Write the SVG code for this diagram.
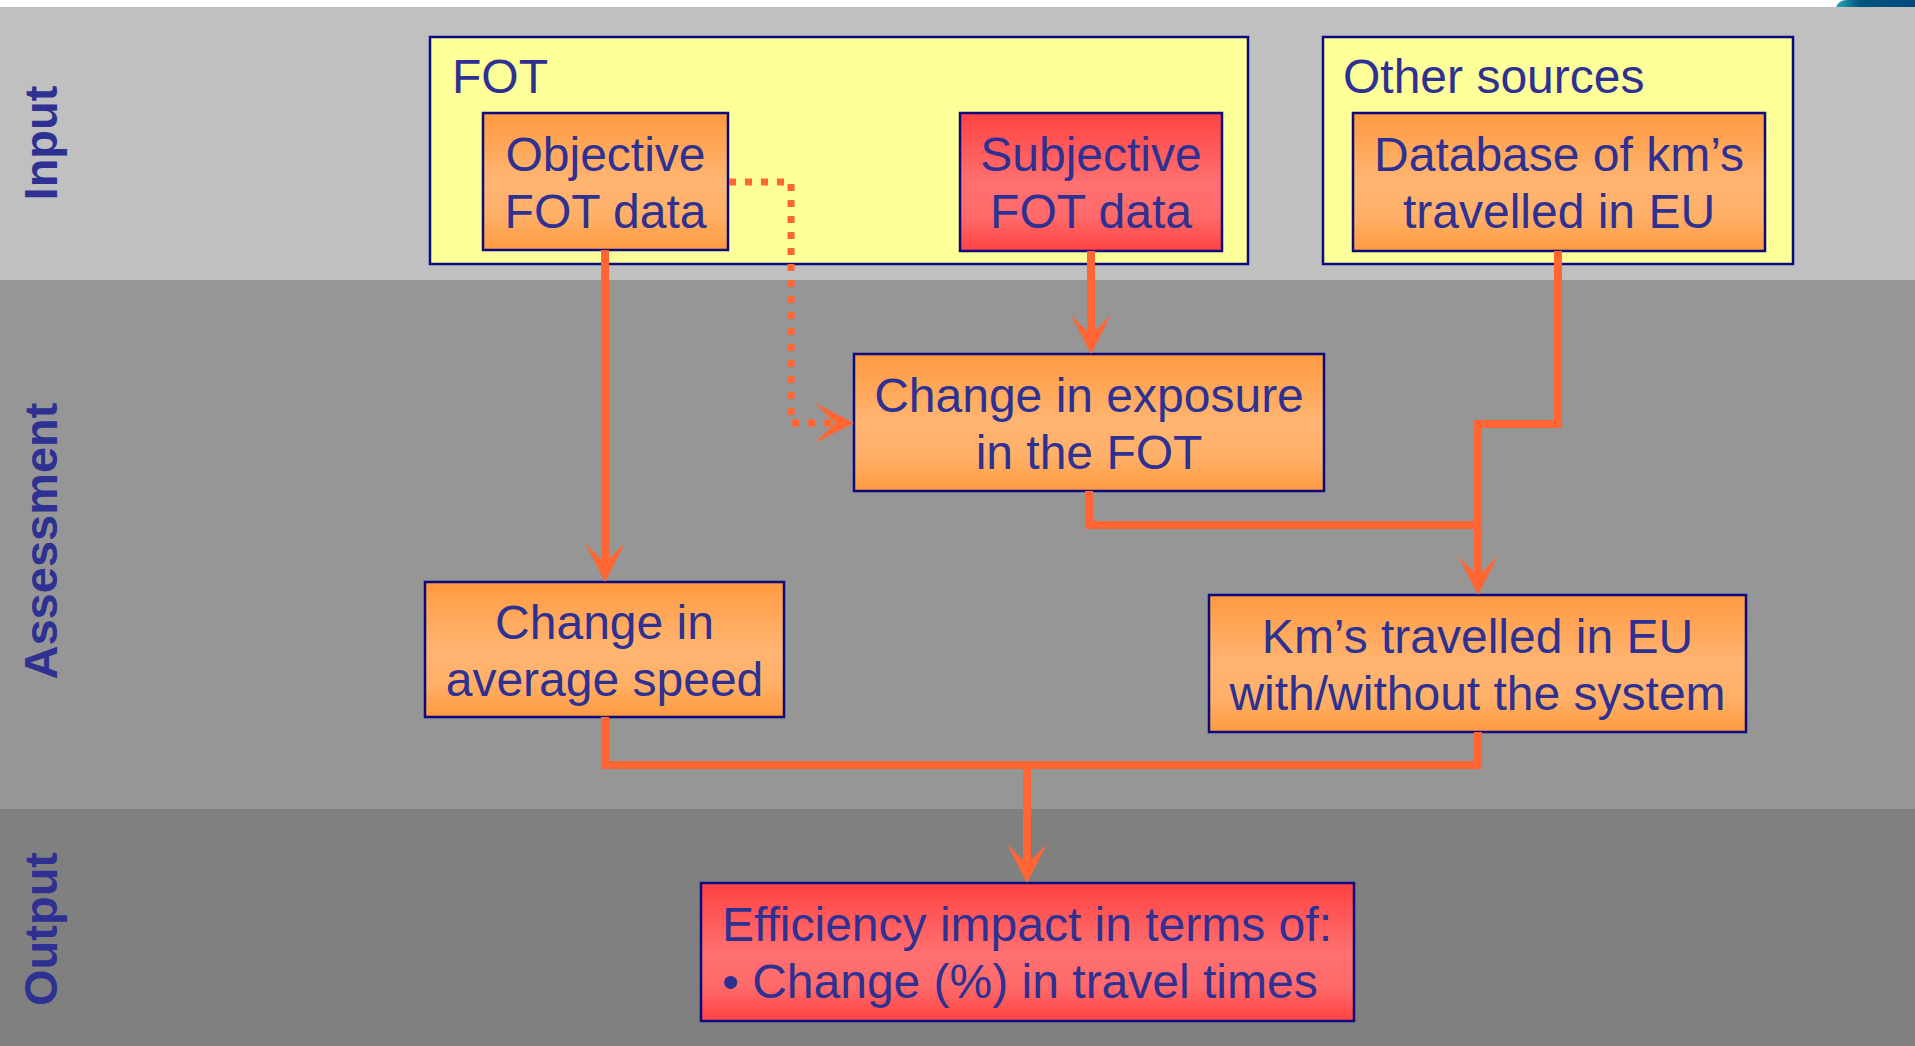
<svg xmlns="http://www.w3.org/2000/svg" width="1915" height="1046" viewBox="0 0 1915 1046">
<defs>
<linearGradient id="gOrange" x1="0" y1="0" x2="0" y2="1">
<stop offset="0" stop-color="#FF9A40"/>
<stop offset="0.5" stop-color="#FFB572"/>
<stop offset="0.75" stop-color="#FFB068"/>
<stop offset="1" stop-color="#FF9A40"/>
</linearGradient>
<linearGradient id="gRed" x1="0" y1="0" x2="0" y2="1">
<stop offset="0" stop-color="#FF4242"/>
<stop offset="0.5" stop-color="#FF7070"/>
<stop offset="0.75" stop-color="#FF6A6A"/>
<stop offset="1" stop-color="#FF4242"/>
</linearGradient>
<linearGradient id="gLogo" x1="0" y1="0" x2="1" y2="0">
<stop offset="0" stop-color="#2AA7B8"/>
<stop offset="0.3" stop-color="#005580"/>
<stop offset="1" stop-color="#004A7C"/>
</linearGradient>
<marker id="arr" viewBox="0 0 40 40" markerUnits="userSpaceOnUse" markerWidth="40" markerHeight="40" refX="20" refY="20" orient="auto">
<path d="M0,0 L39,20 L0,40 L20,20 Z" fill="#FF6633"/>
</marker>
<style>
.box{stroke:#0A0A80;stroke-width:2.5}
.yellow{fill:#FFFF99}
.orange{fill:url(#gOrange)}
.red{fill:url(#gRed)}
.t{font-family:"Liberation Sans",Arial,sans-serif;font-size:48px;fill:#2E3192}
.c{text-anchor:middle}
.lab{font-family:"Liberation Sans",Arial,sans-serif;font-size:47px;font-weight:bold;fill:#2E3192;text-anchor:middle}
.con{fill:none;stroke:#FF6633;stroke-width:8}
.dot{fill:none;stroke:#FF6633;stroke-width:7;stroke-dasharray:7 9}
</style>
</defs>
<rect x="0" y="0" width="1915" height="1046" fill="#FFFFFF"/>
<g id="bands">
<rect x="0" y="7" width="1915" height="273" fill="#C0C0C0"/>
<rect x="0" y="280" width="1915" height="529" fill="#969696"/>
<rect x="0" y="809" width="1915" height="237" fill="#808080"/>
<path d="M1836,7 Q1838,1 1846,0 L1915,0 L1915,7 Z" fill="url(#gLogo)"/>
</g>
<g id="lane-labels">
<text class="lab" transform="translate(57,143) rotate(-90)">Input</text>
<text class="lab" transform="translate(57,541) rotate(-90)">Assessment</text>
<text class="lab" transform="translate(57,929) rotate(-90)">Output</text>
</g>
<g id="fot-group">
<rect class="box yellow" x="430" y="37" width="818" height="227"/>
<text class="t" x="452" y="93">FOT</text>
</g>
<g id="other-sources">
<rect class="box yellow" x="1323" y="37" width="470" height="227"/>
<text class="t" x="1343" y="93">Other sources</text>
</g>
<g id="objective">
<rect class="box orange" x="483" y="113" width="245" height="137"/>
<text class="t c" x="605.5" y="171">Objective</text>
<text class="t c" x="605.5" y="228">FOT data</text>
</g>
<g id="subjective">
<rect class="box red" x="960" y="113" width="262" height="138"/>
<text class="t c" x="1091" y="171">Subjective</text>
<text class="t c" x="1091" y="228">FOT data</text>
</g>
<g id="database">
<rect class="box orange" x="1353" y="113" width="412" height="138"/>
<text class="t c" x="1559" y="171">Database of km’s</text>
<text class="t c" x="1559" y="228">travelled in EU</text>
</g>
<g id="exposure">
<rect class="box orange" x="854" y="354" width="470" height="137"/>
<text class="t c" x="1089" y="412">Change in exposure</text>
<text class="t c" x="1089" y="469">in the FOT</text>
</g>
<g id="speed">
<rect class="box orange" x="425" y="582" width="359" height="135"/>
<text class="t c" x="604.5" y="639">Change in</text>
<text class="t c" x="604.5" y="696">average speed</text>
</g>
<g id="kms">
<rect class="box orange" x="1209" y="595" width="537" height="137"/>
<text class="t c" x="1477.5" y="653">Km’s travelled in EU</text>
<text class="t c" x="1477.5" y="710">with/without the system</text>
</g>
<g id="efficiency">
<rect class="box red" x="701" y="883" width="653" height="138"/>
<text class="t" x="722" y="941">Efficiency impact in terms of:</text>
<text class="t" x="722" y="998">• Change (%) in travel times</text>
</g>
<g id="connectors">
<path class="con" d="M605,250 V563" marker-end="url(#arr)"/>
<path class="dot" d="M729,182 H791 V423 H835" marker-end="url(#arr)"/>
<path class="con" d="M1091,251 V335" marker-end="url(#arr)"/>
<path class="con" d="M1558,251 V424 H1478 V576" marker-end="url(#arr)"/>
<path class="con" d="M1089,491 V525 H1478"/>
<path class="con" d="M605,717 V765 H1478 V732"/>
<path class="con" d="M1027,765 V864" marker-end="url(#arr)"/>
</g>
</svg>
